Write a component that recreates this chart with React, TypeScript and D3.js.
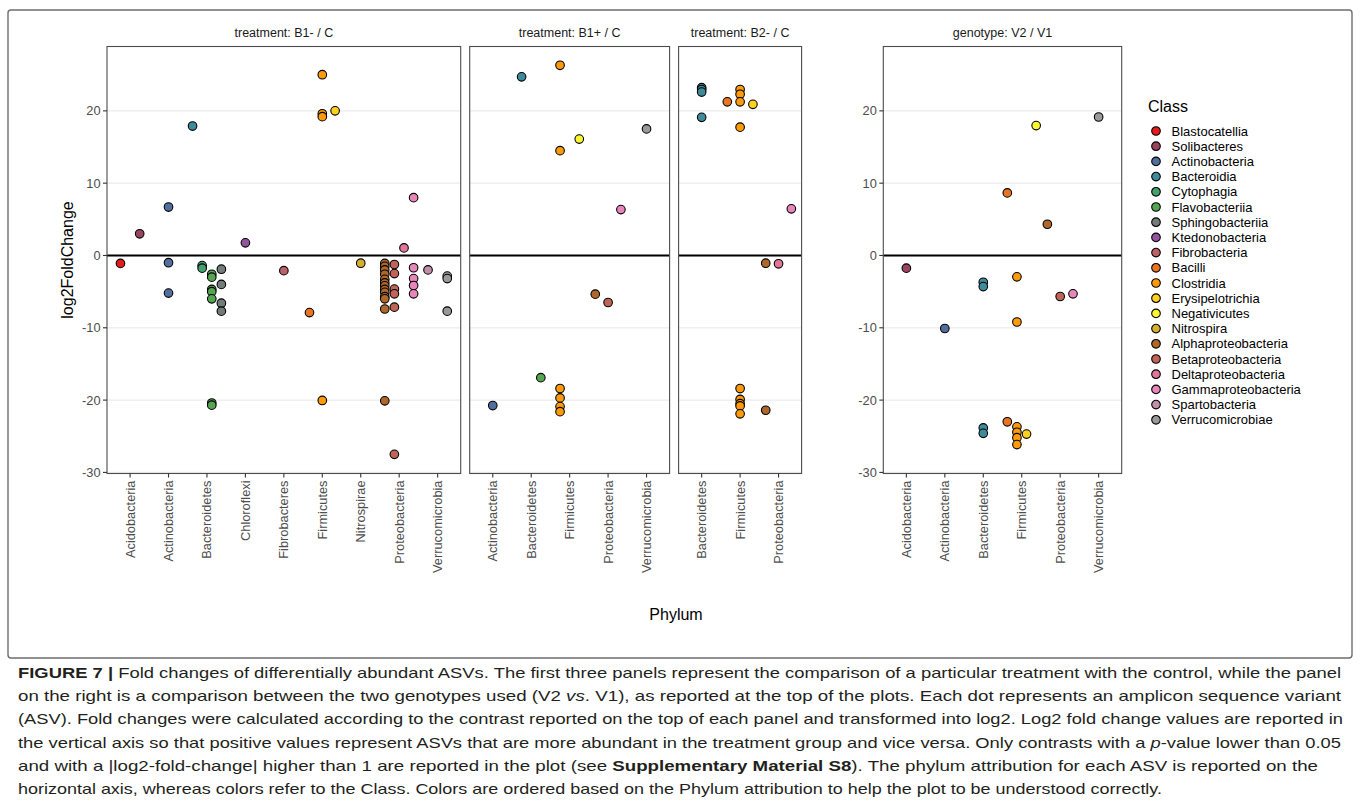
import React from "react";
import * as d3 from "d3";

// classes in legend order, with the phylum each one belongs to
const classes = [
  "Blastocatellia", "Solibacteres", "Actinobacteria", "Bacteroidia", "Cytophagia",
  "Flavobacteriia", "Sphingobacteriia", "Ktedonobacteria", "Fibrobacteria", "Bacilli",
  "Clostridia", "Erysipelotrichia", "Negativicutes", "Nitrospira", "Alphaproteobacteria",
  "Betaproteobacteria", "Deltaproteobacteria", "Gammaproteobacteria", "Spartobacteria",
  "Verrucomicrobiae",
];
const classPhylum = [
  "Acidobacteria", "Acidobacteria", "Actinobacteria", "Bacteroidetes", "Bacteroidetes",
  "Bacteroidetes", "Bacteroidetes", "Chloroflexi", "Fibrobacteres", "Firmicutes",
  "Firmicutes", "Firmicutes", "Firmicutes", "Nitrospirae", "Proteobacteria",
  "Proteobacteria", "Proteobacteria", "Proteobacteria", "Verrucomicrobia",
  "Verrucomicrobia",
];

const phylaB1minus = [
  "Acidobacteria", "Actinobacteria", "Bacteroidetes", "Chloroflexi", "Fibrobacteres",
  "Firmicutes", "Nitrospirae", "Proteobacteria", "Verrucomicrobia",
];
const phylaB1plus = ["Actinobacteria", "Bacteroidetes", "Firmicutes", "Proteobacteria", "Verrucomicrobia"];
const phylaB2minus = ["Bacteroidetes", "Firmicutes", "Proteobacteria"];
const phylaGenotype = [
  "Acidobacteria", "Actinobacteria", "Bacteroidetes", "Firmicutes", "Proteobacteria", "Verrucomicrobia",
];

// [class, log2FoldChange]
const lfcB1minus: [string, number][] = [
  ["Blastocatellia", -1.1],
  ["Solibacteres", 3.0],
  ["Actinobacteria", 6.7], ["Actinobacteria", -1.0], ["Actinobacteria", -5.2],
  ["Bacteroidia", 17.9],
  ["Cytophagia", -1.4], ["Cytophagia", -1.75],
  ["Flavobacteriia", -2.6], ["Flavobacteriia", -3.0], ["Flavobacteriia", -4.7], ["Flavobacteriia", -5.0],
  ["Flavobacteriia", -6.0], ["Flavobacteriia", -20.4], ["Flavobacteriia", -20.7],
  ["Sphingobacteriia", -1.9], ["Sphingobacteriia", -4.0], ["Sphingobacteriia", -6.6], ["Sphingobacteriia", -7.7],
  ["Ktedonobacteria", 1.75],
  ["Fibrobacteria", -2.1],
  ["Bacilli", -7.9],
  ["Clostridia", 25.0], ["Clostridia", 19.6], ["Clostridia", 19.2], ["Clostridia", -20.05],
  ["Erysipelotrichia", 20.0],
  ["Nitrospira", -1.07],
  ["Alphaproteobacteria", -1.1], ["Alphaproteobacteria", -1.5], ["Alphaproteobacteria", -2.0],
  ["Alphaproteobacteria", -2.6], ["Alphaproteobacteria", -3.3], ["Alphaproteobacteria", -3.8],
  ["Alphaproteobacteria", -4.2], ["Alphaproteobacteria", -4.7], ["Alphaproteobacteria", -5.1],
  ["Alphaproteobacteria", -5.7], ["Alphaproteobacteria", -6.0], ["Alphaproteobacteria", -7.4],
  ["Alphaproteobacteria", -20.1],
  ["Betaproteobacteria", -1.25], ["Betaproteobacteria", -2.5], ["Betaproteobacteria", -4.65],
  ["Betaproteobacteria", -5.3], ["Betaproteobacteria", -7.15], ["Betaproteobacteria", -27.5],
  ["Deltaproteobacteria", 1.05],
  ["Gammaproteobacteria", 8.0], ["Gammaproteobacteria", -1.7], ["Gammaproteobacteria", -3.2],
  ["Gammaproteobacteria", -4.15], ["Gammaproteobacteria", -5.3],
  ["Spartobacteria", -2.0],
  ["Verrucomicrobiae", -2.85], ["Verrucomicrobiae", -3.2], ["Verrucomicrobiae", -7.7],
];

const lfcB1plus: [string, number][] = [
  ["Actinobacteria", -20.75],
  ["Bacteroidia", 24.7],
  ["Flavobacteriia", -16.9],
  ["Clostridia", 26.3], ["Clostridia", 14.5], ["Clostridia", -18.4], ["Clostridia", -19.7],
  ["Clostridia", -20.9], ["Clostridia", -21.6],
  ["Negativicutes", 16.1],
  ["Alphaproteobacteria", -5.35],
  ["Betaproteobacteria", -6.5],
  ["Gammaproteobacteria", 6.35],
  ["Verrucomicrobiae", 17.5],
];

const lfcB2minus: [string, number][] = [
  ["Bacteroidia", 23.2], ["Bacteroidia", 22.95], ["Bacteroidia", 22.6], ["Bacteroidia", 19.1],
  ["Bacilli", 21.25],
  ["Clostridia", 22.95], ["Clostridia", 22.3], ["Clostridia", 21.25], ["Clostridia", 17.75],
  ["Clostridia", -18.4], ["Clostridia", -19.9], ["Clostridia", -20.5], ["Clostridia", -20.8],
  ["Clostridia", -21.9],
  ["Erysipelotrichia", 20.9],
  ["Alphaproteobacteria", -1.07], ["Alphaproteobacteria", -21.4],
  ["Deltaproteobacteria", -1.15],
  ["Gammaproteobacteria", 6.45],
];

const lfcGenotype: [string, number][] = [
  ["Solibacteres", -1.75],
  ["Actinobacteria", -10.1],
  ["Bacteroidia", -3.7], ["Bacteroidia", -4.3], ["Bacteroidia", -23.85], ["Bacteroidia", -24.6],
  ["Bacilli", 8.65], ["Bacilli", -23.0],
  ["Clostridia", -2.95], ["Clostridia", -9.2], ["Clostridia", -23.7], ["Clostridia", -24.45],
  ["Clostridia", -25.2], ["Clostridia", -26.15],
  ["Erysipelotrichia", -24.7],
  ["Negativicutes", 17.96],
  ["Alphaproteobacteria", 4.32],
  ["Betaproteobacteria", -5.67],
  ["Gammaproteobacteria", -5.3],
  ["Verrucomicrobiae", 19.15],
];

const yTicks = [-30, -20, -10, 0, 10, 20];

const captionLines = [
  [["b", "FIGURE 7 | "], ["n", "Fold changes of differentially abundant ASVs. The first three panels represent the comparison of a particular treatment with the control, while the panel"]],
  [["n", "on the right is a comparison between the two genotypes used (V2 "], ["i", "vs"], ["n", ". V1), as reported at the top of the plots. Each dot represents an amplicon sequence variant"]],
  [["n", "(ASV). Fold changes were calculated according to the contrast reported on the top of each panel and transformed into log2. Log2 fold change values are reported in"]],
  [["n", "the vertical axis so that positive values represent ASVs that are more abundant in the treatment group and vice versa. Only contrasts with a "], ["i", "p"], ["n", "-value lower than 0.05"]],
  [["n", "and with a |log2-fold-change| higher than 1 are reported in the plot (see "], ["b", "Supplementary Material S8"], ["n", "). The phylum attribution for each ASV is reported on the"]],
  [["n", "horizontal axis, whereas colors refer to the Class. Colors are ordered based on the Phylum attribution to help the plot to be understood correctly."]],
];

const palette = d3.quantize(d3.piecewise(d3.interpolateRgb, d3.schemeSet1 as string[]), classes.length);
const color = d3.scaleOrdinal<string, string>().domain(classes).range(palette);

const FONT = "'Liberation Sans', Arial, Helvetica, sans-serif";
const TOP = 46.5;
const BOTTOM = 473.5;

const y = d3.scaleLinear().domain([-30.15, 28.9]).range([BOTTOM, TOP]);

type PanelSpec = {
  title: string;
  phyla: string[];
  data: [string, number][];
  x0: number;
  x1: number;
  yAxis: boolean;
};

const panels: PanelSpec[] = [
  { title: "treatment: B1- / C", phyla: phylaB1minus, data: lfcB1minus, x0: 107, x1: 460.7, yAxis: true },
  { title: "treatment: B1+ / C", phyla: phylaB1plus, data: lfcB1plus, x0: 469.7, x1: 669.6, yAxis: false },
  { title: "treatment: B2- / C", phyla: phylaB2minus, data: lfcB2minus, x0: 678.6, x1: 801.6, yAxis: false },
  { title: "genotype: V2 / V1", phyla: phylaGenotype, data: lfcGenotype, x0: 883.3, x1: 1121.7, yAxis: true },
];

function Panel({ spec }: { spec: PanelSpec }) {
  const x = d3.scalePoint<string>().domain(spec.phyla).range([spec.x0, spec.x1]).padding(0.6);
  const step = x.step();

  // dodge classes side by side inside each phylum (width 1)
  const byPhylum = d3.group(spec.data, (d) => classPhylum[classes.indexOf(d[0])]);
  const pts = spec.data.map(([cls, v]) => {
    const ph = classPhylum[classes.indexOf(cls)];
    const present = classes.filter((c) => byPhylum.get(ph)!.some((d) => d[0] === c));
    const i = present.indexOf(cls);
    const n = present.length;
    const off = ((i + 0.5) / n - 0.5) * step;
    return { cls, v, cx: (x(ph) as number) + off };
  });

  return (
    <g>
      <text x={(spec.x0 + spec.x1) / 2} y={33} textAnchor="middle" dominantBaseline="central"
        fontSize={12.5} fill="#1a1a1a">{spec.title}</text>
      <rect x={spec.x0} y={TOP} width={spec.x1 - spec.x0} height={BOTTOM - TOP} fill="white" />
      {yTicks.map((t) => (
        <line key={t} x1={spec.x0} x2={spec.x1} y1={y(t)} y2={y(t)} stroke="#ebebeb" strokeWidth={1.3} />
      ))}
      <line x1={spec.x0} x2={spec.x1} y1={y(0)} y2={y(0)} stroke="black" strokeWidth={2} />
      {pts.map((p, i) => (
        <circle key={i} cx={p.cx} cy={y(p.v)} r={4.3} fill={color(p.cls)} stroke="black" strokeWidth={1.1} />
      ))}
      <rect x={spec.x0} y={TOP} width={spec.x1 - spec.x0} height={BOTTOM - TOP} fill="none"
        stroke="#4d4d4d" strokeWidth={1.1} />
      {spec.phyla.map((ph) => (
        <g key={ph} transform={`translate(${x(ph)},${BOTTOM})`}>
          <line y1={0} y2={4} stroke="#333" strokeWidth={1.1} />
          <text transform="translate(0,7) rotate(-90)" textAnchor="end" dominantBaseline="central"
            fontSize={12.8} fill="#4d4d4d">{ph}</text>
        </g>
      ))}
      {spec.yAxis && yTicks.map((t) => (
        <g key={t} transform={`translate(${spec.x0},${y(t)})`}>
          <line x1={-4} x2={0} stroke="#333" strokeWidth={1.1} />
          <text x={-6.5} textAnchor="end" dominantBaseline="central" fontSize={12.8} fill="#4d4d4d">{t}</text>
        </g>
      ))}
    </g>
  );
}

function Legend() {
  const ly = d3.scalePoint<string>().domain(classes).range([131, 131 + 15.2 * (classes.length - 1)]);
  return (
    <g>
      <text x={1148} y={106} dominantBaseline="central" fontSize={16} fill="black">Class</text>
      {classes.map((c) => (
        <g key={c} transform={`translate(1156,${ly(c)})`}>
          <circle r={4.3} fill={color(c)} stroke="black" strokeWidth={1.1} />
          <text x={15.5} dominantBaseline="central" fontSize={13} fill="black">{c}</text>
        </g>
      ))}
    </g>
  );
}

const captionWidths = [1323, 1323, 1325, 1323, 1300, 1144];

function Caption() {
  return (
    <g>
      {captionLines.map((line, i) => (
        <text key={i} x={18} y={671.7 + i * 23.3} dominantBaseline="central" fontSize={15}
          fill="#231f20" textLength={captionWidths[i]} lengthAdjust="spacingAndGlyphs">
          {line.map(([k, s], j) => (
            <tspan key={j} fontWeight={k === "b" ? "bold" : "normal"} fontStyle={k === "i" ? "italic" : "normal"}>{s}</tspan>
          ))}
        </text>
      ))}
    </g>
  );
}

export default function App() {
  return (
    <svg width={1360} height={811} style={{ position: "absolute", left: 0, top: 0, background: "white" }}
      fontFamily={FONT}>
      <rect x={0} y={0} width={1360} height={811} fill="white" />
      <rect x={8} y={10} width={1344} height={648} rx={3} fill="none" stroke="#6d6e71" strokeWidth={1.4} />
      {panels.map((p) => <Panel key={p.title} spec={p} />)}
      <text transform={`translate(67,${(TOP + BOTTOM) / 2}) rotate(-90)`} textAnchor="middle"
        dominantBaseline="central" fontSize={16} fill="black">log2FoldChange</text>
      <text x={676} y={614} textAnchor="middle" dominantBaseline="central" fontSize={16} fill="black">Phylum</text>
      <Legend />
      <Caption />
    </svg>
  );
}
